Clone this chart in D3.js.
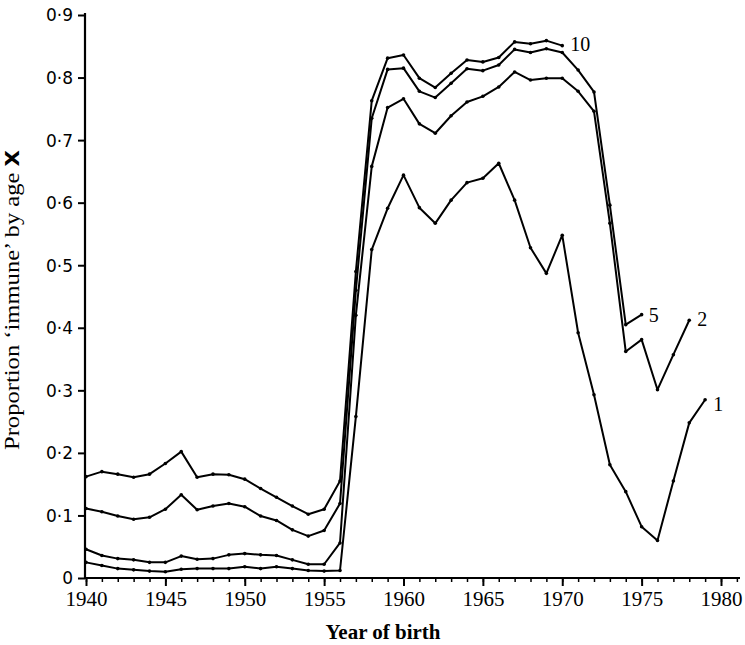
<!DOCTYPE html>
<html>
<head>
<meta charset="utf-8">
<script src="https://cdn.jsdelivr.net/npm/d3@7"></script>
<style>
  body { margin: 0; background: #fff; }
  svg { display: block; }
  .tick-x { font-family: 'Liberation Serif', serif; font-size: 21px; fill: #000; }
  .tick-y { font-family: 'DejaVu Sans', sans-serif; font-size: 17px; fill: #000; }
  .series-label { font-family: 'Liberation Serif', serif; font-size: 20px; fill: #000; }
</style>
</head>
<body>
<svg id="chart" width="745" height="645"></svg>
<script>
// year of birth, 1940..1979
const years = d3.range(1940, 1980);

// proportion 'immune' by age X (null = no value)
const age10 = [0.162, 0.170, 0.166, 0.161, 0.166, 0.183, 0.202, 0.161, 0.166, 0.165,
  0.158, 0.143, 0.129, 0.115, 0.102, 0.110, 0.155, 0.490, 0.763, 0.831,
  0.836, 0.799, 0.784, 0.807, 0.828, 0.825, 0.832, 0.857, 0.854, 0.859,
  0.851, null, null, null, null, null, null, null, null, null];
const age5 = [0.111, 0.106, 0.099, 0.094, 0.097, 0.110, 0.133, 0.109, 0.115, 0.119,
  0.114, 0.099, 0.092, 0.077, 0.067, 0.076, 0.119, 0.460, 0.735, 0.813,
  0.815, 0.778, 0.768, 0.791, 0.814, 0.811, 0.820, 0.845, 0.840, 0.846,
  0.840, 0.812, 0.777, 0.596, 0.405, 0.421, null, null, null, null];
const age2 = [0.046, 0.036, 0.031, 0.029, 0.025, 0.025, 0.035, 0.030, 0.031, 0.037,
  0.039, 0.037, 0.036, 0.029, 0.022, 0.022, 0.056, 0.420, 0.658, 0.752,
  0.766, 0.726, 0.711, 0.739, 0.761, 0.770, 0.785, 0.809, 0.796, 0.799,
  0.799, 0.778, 0.746, 0.567, 0.362, 0.381, 0.301, 0.357, 0.412, null];
const age1 = [0.025, 0.020, 0.015, 0.013, 0.011, 0.010, 0.014, 0.015, 0.015, 0.015,
  0.018, 0.015, 0.018, 0.015, 0.012, 0.011, 0.012, 0.258, 0.525, 0.591,
  0.644, 0.592, 0.567, 0.604, 0.632, 0.639, 0.663, 0.604, 0.528, 0.487,
  0.548, 0.392, 0.293, 0.181, 0.138, 0.082, 0.060, 0.155, 0.248, 0.285];

const seriesNames = ['10', '5', '2', '1'];
const seriesValues = [age10, age5, age2, age1];

const yTicks = [0, 0.1, 0.2, 0.3, 0.4, 0.5, 0.6, 0.7, 0.8, 0.9];
const xTicks = [1940, 1945, 1950, 1955, 1960, 1965, 1970, 1975, 1980];

const svg = d3.select('#chart');

const x = d3.scaleLinear().domain([1940, 1980]).range([86, 721]);
const y = d3.scaleLinear().domain([0, 0.9]).range([578, 15]);

// axis lines
svg.append('line')
  .attr('x1', 85).attr('x2', 740)
  .attr('y1', y(0)).attr('y2', y(0))
  .attr('stroke', '#000').attr('stroke-width', 2.2);
svg.append('line')
  .attr('x1', 85).attr('x2', 85)
  .attr('y1', y(0) + 1).attr('y2', y(0.9) - 2)
  .attr('stroke', '#000').attr('stroke-width', 2.2);

// x axis: minor ticks every year, major every 5
const xMinor = svg.append('g')
  .attr('transform', `translate(0,${y(0)})`)
  .call(d3.axisBottom(x).tickValues(d3.range(1940, 1982)).tickSize(4).tickFormat(''));
xMinor.select('.domain').remove();
xMinor.selectAll('line').attr('stroke-width', 1.5);

const xMajor = svg.append('g')
  .attr('transform', `translate(0,${y(0)})`)
  .call(d3.axisBottom(x).tickValues(xTicks).tickSize(8).tickFormat(d3.format('d')));
xMajor.select('.domain').remove();
xMajor.selectAll('line').attr('stroke-width', 2);
xMajor.selectAll('text')
  .attr('class', 'tick-x')
  .attr('y', 28)
  .attr('dy', 0);

// y axis
const yAxis = svg.append('g')
  .attr('transform', 'translate(85,0)')
  .call(d3.axisLeft(y).tickValues(yTicks).tickSize(7)
    .tickFormat((d) => (d === 0 ? '0' : d.toFixed(1).replace('.', '·'))));
yAxis.select('.domain').remove();
yAxis.selectAll('line').attr('stroke-width', 2);
yAxis.selectAll('text')
  .attr('class', 'tick-y')
  .attr('x', -12)
  .attr('dy', '0.35em');

// axis titles
svg.append('text')
  .attr('x', 383)
  .attr('y', 639)
  .attr('text-anchor', 'middle')
  .attr('font-family', "'Liberation Serif', serif")
  .attr('font-weight', 'bold')
  .attr('font-size', '20px')
  .attr('textLength', 115)
  .attr('lengthAdjust', 'spacingAndGlyphs')
  .text('Year of birth');

const yTitle = svg.append('text')
  .attr('transform', 'translate(19,300) rotate(-90)')
  .attr('text-anchor', 'middle')
  .attr('font-family', "'Liberation Serif', serif")
  .attr('font-size', '22px')
  .attr('textLength', 300)
  .attr('lengthAdjust', 'spacingAndGlyphs');
yTitle.append('tspan').text('Proportion ‘immune’ by age ');
yTitle.append('tspan')
  .attr('font-family', "'DejaVu Sans', sans-serif")
  .attr('font-weight', 'bold')
  .attr('font-size', '19px')
  .text('X');

// series lines
const line = d3.line()
  .defined((d) => d.v !== null)
  .x((d) => x(d.year))
  .y((d) => y(d.v));

const labelOffset = { '10': [8, 5], '5': [7, 7], '2': [8, 6], '1': [8, 11] };

seriesValues.forEach((vals, i) => {
  const pts = years.map((yr, j) => ({ year: yr, v: vals[j] }));
  const valid = pts.filter((p) => p.v !== null);
  svg.append('path')
    .datum(pts)
    .attr('d', line)
    .attr('fill', 'none')
    .attr('stroke', '#000')
    .attr('stroke-width', 2)
    .attr('stroke-linejoin', 'round');
  svg.selectAll(null)
    .data(valid)
    .enter()
    .append('circle')
    .attr('cx', (d) => x(d.year))
    .attr('cy', (d) => y(d.v))
    .attr('r', 1.8)
    .attr('fill', '#000');
  const last = valid[valid.length - 1];
  const off = labelOffset[seriesNames[i]];
  svg.append('text')
    .attr('class', 'series-label')
    .attr('x', x(last.year) + off[0])
    .attr('y', y(last.v) + off[1])
    .text(seriesNames[i]);
});
</script>
</body>
</html>
